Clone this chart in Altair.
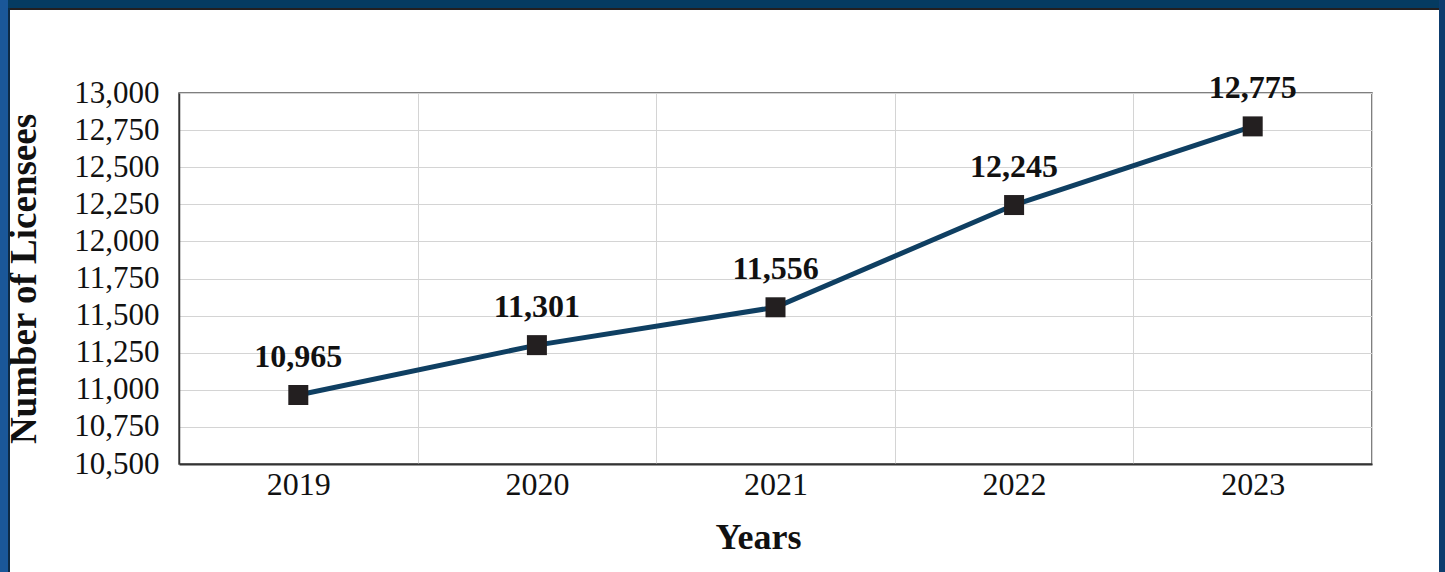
import altair as alt
import pandas as pd

years = ["2019", "2020", "2021", "2022", "2023"]
licensees = [10965, 11301, 11556, 12245, 12775]
labels = ["10,965", "11,301", "11,556", "12,245", "12,775"]

df = pd.DataFrame({"Year": years, "Licensees": licensees, "Label": labels})

FONT = "Liberation Serif"
W, H = 1193, 371
PL, PT = 179, 93

x = alt.X("Year:O", title="Years",
          scale=alt.Scale(paddingInner=0, paddingOuter=0),
          axis=alt.Axis(labelAngle=0, tickBand="extent", ticks=False, grid=True,
                        gridColor="#d4d4d4", labelFontSize=32, labelPadding=5,
                        titleFontSize=36, titleFontWeight="bold", titlePadding=20,
                        titleX=579,
                        domainColor="#333333", domainWidth=2))
y = alt.Y("Licensees:Q", title="Number of Licensees",
          scale=alt.Scale(domain=[10500, 13000], nice=False, zero=False),
          axis=alt.Axis(values=list(range(10500, 13001, 250)), format=",d", ticks=False,
                        gridColor="#d4d4d4", labelFontSize=31, labelPadding=20,
                        titleFontSize=37, titleFontWeight="bold", titlePadding=30,
                        domainColor="#333333", domainWidth=1.5))

base = alt.Chart(df)
line = base.mark_line(color="#0f3f62", strokeWidth=5).encode(x=x, y=y)
pts = base.mark_square(color="#231f20", size=400, opacity=1).encode(x=x, y=y)
txt = base.mark_text(font=FONT, fontSize=32, fontWeight="bold", dy=-38, color="#111111").encode(
    x=x, y=y, text="Label:N")

one = alt.Chart(alt.Data(values=[{"a": 1}]))
top_bar = one.mark_rect(color="#053b61").encode(
    x=alt.value(-PL), x2=alt.value(1445 - PL), y=alt.value(-PT), y2=alt.value(8 - PT))
top_line = one.mark_rect(color="#231f20").encode(
    x=alt.value(-PL), x2=alt.value(1445 - PL), y=alt.value(8 - PT), y2=alt.value(10 - PT))
left_bar = one.mark_rect(color="#1a5799").encode(
    x=alt.value(-PL), x2=alt.value(8 - PL), y=alt.value(-PT), y2=alt.value(572 - PT))
left_line = one.mark_rect(color="#0d2a45").encode(
    x=alt.value(8 - PL), x2=alt.value(10 - PL), y=alt.value(8 - PT), y2=alt.value(572 - PT))
right_bar = one.mark_rect(color="#0d3d6e").encode(
    x=alt.value(1439 - PL), x2=alt.value(1445 - PL), y=alt.value(-PT), y2=alt.value(572 - PT))

chart = alt.layer(line, pts, txt, top_bar, top_line, left_bar, left_line, right_bar).properties(
    width=W, height=H,
    autosize=alt.AutoSizeParams(type="none"),
    padding={"left": PL, "top": PT, "right": 1445 - PL - W, "bottom": 572 - PT - H},
    background="white",
).configure_view(stroke="#555555", strokeWidth=1.5).configure_axis(
    labelFont=FONT, titleFont=FONT, labelColor="#111111", titleColor="#111111"
)

chart.save("out.html", embed_options={"renderer": "svg", "actions": False})
